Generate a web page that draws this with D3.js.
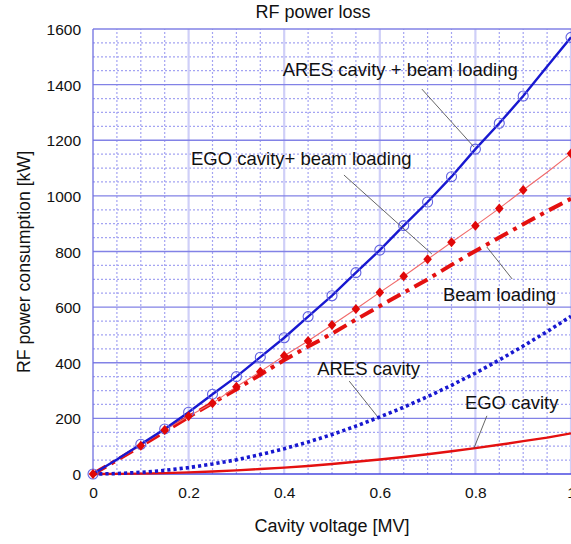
<!DOCTYPE html>
<html><head><meta charset="utf-8">
<script src="https://cdn.jsdelivr.net/npm/d3@7"></script>
<style>
html,body{margin:0;padding:0;background:#fff;}
svg{display:block;font-family:"Liberation Sans",Arial,Helvetica,sans-serif;}
</style></head>
<body>
<svg id="chart" width="571" height="544"></svg>
<script>
// ---- data ----
const voltage   = [0,0.05,0.1,0.15,0.2,0.25,0.3,0.35,0.4,0.45,0.5,0.55,0.6,0.65,0.7,0.75,0.8,0.85,0.9,0.95,1.0];
const aresBeam  = [0,52,107,162,222,287,350,420,490,566,641,724,805,893,978,1069,1168,1261,1359,1465,1570];
const egoBeam   = [0,50,102,158,208,254,314,368,425,478,536,593,653,711,772,833,893,955,1021,1085,1152];
const beamLoad  = [0,50,101,153,205,255,305,357,410,458,505,555,604,652,700,752,802,850,898,945,990];
const aresCav   = [0,1.5,6,13,23,36,51,70,91,115,142,172,205,240,278,319,363,410,460,512,567];
const egoCav    = [0,0.4,1.5,3.3,6,9,13,18,23,29,36,44,52,61,71,82,93,105,118,131,146];
const markerVoltages = [0,0.1,0.15,0.2,0.25,0.3,0.35,0.4,0.45,0.5,0.55,0.6,0.65,0.7,0.75,0.8,0.85,0.9,1.0];
const xTicks = [0,0.2,0.4,0.6,0.8,1];
const yTicks = [0,200,400,600,800,1000,1200,1400,1600];
const title = "RF power loss";
const xTitle = "Cavity voltage [MV]";
const yTitle = "RF power consumption [kW]";
// annotation labels: text position and leader line (data coords)
const annLabels = ["ARES cavity + beam loading","EGO cavity+ beam loading","Beam loading","ARES cavity","EGO cavity"];
const annText   = [[0.397,1431],[0.205,1111],[0.732,622],[0.469,356],[0.778,234]];
const annFrom   = [[0.688,1384],[0.525,1075],[0.824,816],[0.536,334],[0.824,209]];
const annTo     = [[0.797,1176],[0.709,791],[0.877,701],[0.594,209],[0.797,93]];

// ---- layout ----
const svg = d3.select("#chart");
const M = {left:93, top:29, right:0, bottom:70};
const W = 571 - M.left - M.right, H = 474 - M.top;
const x = d3.scaleLinear().domain([0,1]).range([M.left, M.left+W]);
const y = d3.scaleLinear().domain([0,1600]).range([M.top+H, M.top]);

const g = svg.append("g");

// minor grid
const minorX = d3.range(0.05,1.0001,0.05).filter(v=>Math.abs(v*5-Math.round(v*5))>1e-6);
const minorY = d3.range(50,1600,50).filter(v=>v%200!==0);
g.selectAll(".mgx").data(minorX).join("line")
  .attr("x1",d=>x(d)).attr("x2",d=>x(d)).attr("y1",y(0)).attr("y2",y(1600))
  .attr("stroke","#a4a4f2").attr("stroke-width",1.2).attr("stroke-dasharray","2,2");
g.selectAll(".mgy").data(minorY).join("line")
  .attr("x1",x(0)).attr("x2",x(1)).attr("y1",d=>y(d)).attr("y2",d=>y(d))
  .attr("stroke","#a4a4f2").attr("stroke-width",1.2).attr("stroke-dasharray","2,2");
// major grid
g.selectAll(".Mgx").data(xTicks.slice(1)).join("line")
  .attr("x1",d=>x(d)).attr("x2",d=>x(d)).attr("y1",y(0)).attr("y2",y(1600))
  .attr("stroke","#cfcff8").attr("stroke-width",2.2);
g.selectAll(".Mgy").data(yTicks.slice(1)).join("line")
  .attr("x1",x(0)).attr("x2",x(1)).attr("y1",d=>y(d)).attr("y2",d=>y(d))
  .attr("stroke","#8282e6").attr("stroke-width",1.3);
// frame
g.append("line").attr("x1",x(0)).attr("x2",x(0)).attr("y1",y(0)).attr("y2",y(1600))
  .attr("stroke","#7070e0").attr("stroke-width",1.3);
g.append("line").attr("x1",x(0)).attr("x2",x(1)).attr("y1",y(0)).attr("y2",y(0))
  .attr("stroke","#4a4ae0").attr("stroke-width",1.5);

// axes labels
const xAxis = d3.axisBottom(x).tickValues(xTicks).tickFormat(d3.format("~g")).tickSize(0).tickPadding(0);
const xa = svg.append("g").attr("transform",`translate(0,${y(0)})`).call(xAxis);
xa.select(".domain").remove();
xa.selectAll("text").attr("font-size","15.5px").attr("fill","#111")
  .attr("font-family","Liberation Sans, Arial, sans-serif").attr("dy",null).attr("y",24);
const yAxis = d3.axisLeft(y).tickValues(yTicks).tickFormat(d3.format("d")).tickSize(0).tickPadding(0);
const ya = svg.append("g").attr("transform",`translate(${M.left-12},0)`).call(yAxis);
ya.select(".domain").remove();
ya.selectAll("text").attr("font-size","15.5px").attr("fill","#111")
  .attr("font-family","Liberation Sans, Arial, sans-serif").attr("dy","0.36em").attr("x",0);

svg.append("text").attr("x",313).attr("y",18).attr("text-anchor","middle")
  .attr("font-size","18px").attr("fill","#111").text(title);
svg.append("text").attr("x",332).attr("y",532).attr("text-anchor","middle")
  .attr("font-size","18px").attr("fill","#111").text(xTitle);
svg.append("text").attr("transform","translate(30,262) rotate(-90)").attr("text-anchor","middle")
  .attr("font-size","17.7px").attr("fill","#111").text(yTitle);

// series
const line = d3.line().x((d,i)=>x(voltage[i])).y(d=>y(d));
const clip = svg.append("clipPath").attr("id","clip").append("rect")
  .attr("x",x(0)-8).attr("y",y(1600)-8).attr("width",W+16).attr("height",H+16);
const s = svg.append("g").attr("clip-path","url(#clip)");

s.append("path").datum(egoCav).attr("d",line).attr("fill","none")
  .attr("stroke","#e41010").attr("stroke-width",2.4);
s.append("path").datum(aresCav).attr("d",line).attr("fill","none")
  .attr("stroke","#1818d0").attr("stroke-width",3.6).attr("stroke-dasharray","3.2,3");
s.append("path").datum(beamLoad).attr("d",line).attr("fill","none")
  .attr("stroke","#e41010").attr("stroke-width",4).attr("stroke-dasharray","15,6,4,6");
s.append("path").datum(egoBeam).attr("d",line).attr("fill","none")
  .attr("stroke","#f06a6a").attr("stroke-width",1.1);
s.append("path").datum(aresBeam).attr("d",line).attr("fill","none")
  .attr("stroke","#1818d0").attr("stroke-width",2.4);

const idx = markerVoltages.map(v=>voltage.findIndex(u=>Math.abs(u-v)<1e-9));
s.selectAll(".circ").data(idx).join("circle")
  .attr("cx",i=>x(voltage[i])).attr("cy",i=>y(aresBeam[i])).attr("r",5)
  .attr("fill","none").attr("stroke","#6262e2").attr("stroke-width",1.1);
s.selectAll(".dia").data(idx).join("path")
  .attr("transform",i=>`translate(${x(voltage[i])},${y(egoBeam[i])})`)
  .attr("d","M0,-5L4.3,0L0,5L-4.3,0Z").attr("fill","#e00808");

// annotations
annLabels.forEach((lab,i)=>{
  svg.append("line").attr("x1",x(annFrom[i][0])).attr("y1",y(annFrom[i][1]))
    .attr("x2",x(annTo[i][0])).attr("y2",y(annTo[i][1]))
    .attr("stroke","#555").attr("stroke-width",0.9);
  svg.append("text").attr("x",x(annText[i][0])).attr("y",y(annText[i][1]))
    .attr("font-size","18.5px").attr("fill","#111").text(lab);
});
</script>
</body></html>
